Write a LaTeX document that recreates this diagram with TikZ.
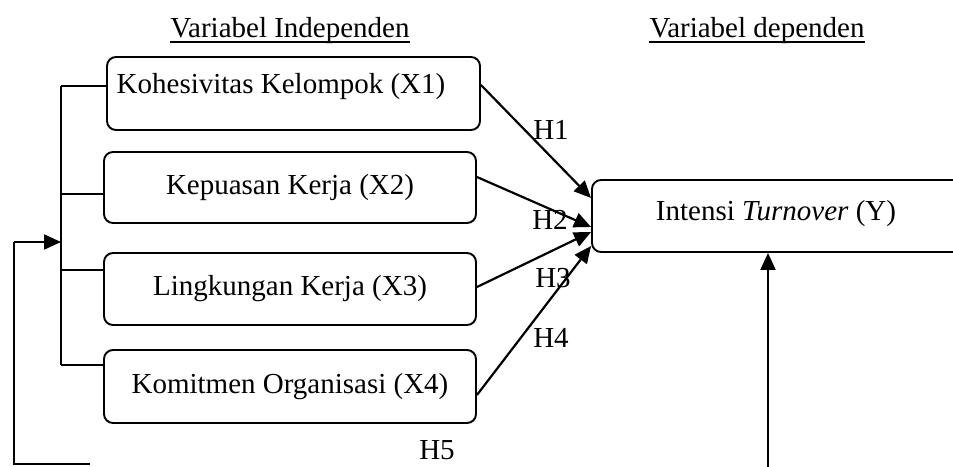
\documentclass[tikz,border=0pt]{standalone}
\usepackage{fontspec}
\setmainfont{Liberation Serif}
\usetikzlibrary{arrows.meta}
\begin{document}
\begin{tikzpicture}[x=1pt,y=-1pt,
  box/.style={draw,line width=1.9pt,rounded corners=9pt,minimum height=72pt,inner sep=0pt},
  txt/.style={font=\fontsize{29}{34}\selectfont,inner sep=0pt},
  conn/.style={line width=2.2pt},
  arr/.style={conn,-{Triangle[length=17pt,width=15pt]}}]
\path[use as bounding box] (0,0) rectangle (953,466);
\clip (0,0) rectangle (953,466);
% titles
\node[txt,anchor=base] (t1) at (290,37) {Variabel Independen};
\node[txt,anchor=base] (t2) at (757,37) {Variabel dependen};
\draw[line width=2.4pt] ([yshift=-5pt]t1.base west) -- ([yshift=-5pt]t1.base east);
\draw[line width=2.4pt] ([yshift=-5pt]t2.base west) -- ([yshift=-5pt]t2.base east);
% boxes
\node[box,minimum width=373pt,minimum height=73pt] (x1) at (293.5,93.5) {};
\node[txt] (x1t) at (281,87) {Kohesivitas Kelompok (X1)};
\node[box,txt,minimum width=372pt,minimum height=71pt] (x2) at (290,187.5) {Kepuasan Kerja (X2)};
\node[box,txt,minimum width=372pt] (x3) at (290,289) {Lingkungan Kerja (X3)};
\node[box,txt,minimum width=372pt,minimum height=73pt] (x4) at (290,386.5) {Komitmen Organisasi (X4)};
\node[box,minimum width=403pt] (y) at (793.5,216) {};
\node[txt] (yt) at (776,214) {Intensi \textit{Turnover} (Y)};
% hypothesis labels
\node[txt] (h1) at (551,130) {H1};
\node[txt] (h2) at (550,220) {H2};
\node[txt] (h3) at (553,278) {H3};
\node[txt] (h4) at (551,338) {H4};
\node[txt] (h5) at (437,450) {H5};
% arrows to Y
\draw[arr] ([yshift=8.5pt]x1.east) -- ([yshift=18pt]y.west);
\draw[arr] ([yshift=10.5pt]x2.east) -- ([yshift=-11pt]y.west);
\draw[arr] ([yshift=2pt]x3.east) -- ([yshift=-16pt]y.west);
\draw[arr] ([yshift=-8.5pt]x4.east) -- ([yshift=-30pt]y.west);
% bracket
\coordinate (bt) at (61,86);
\coordinate (b2) at (61,194);
\coordinate (b3) at (61,270);
\coordinate (bb) at (61,365);
\draw[conn] (bt) -- (bb);
\draw[conn] (bt) -- (bt -| x1.west);
\draw[conn] (b2) -- (b2 -| x2.west);
\draw[conn] (b3) -- (b3 -| x3.west);
\draw[conn] (bb) -- (bb -| x4.west);
% feedback line
\coordinate (fa) at (90,464);
\coordinate (fb) at (14,464);
\coordinate (fc) at (14,242);
\draw[conn] (fa) -- (fb) -- (fc);
\draw[arr] (fc) -- (fc -| bt);
% arrow from bottom to Y
\coordinate (rb) at (768,470);
\draw[arr] (rb) -- (rb |- y.south);
\end{tikzpicture}
\end{document}
